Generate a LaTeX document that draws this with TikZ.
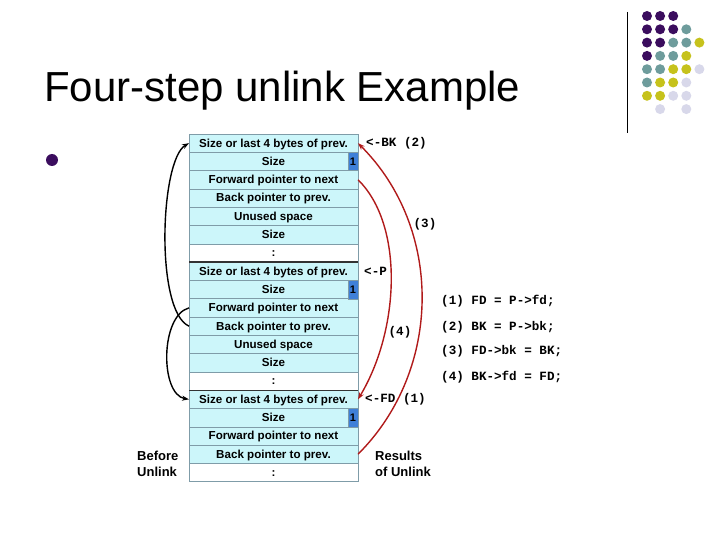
\documentclass[tikz,border=0pt]{standalone}
\usepackage{fontspec}
\setmainfont{Liberation Sans}
\setmonofont{Liberation Mono}
\usepackage{tikz}
\usetikzlibrary{arrows.meta,positioning}

\definecolor{cellfill}{HTML}{CCF6FA}
\definecolor{rowline}{HTML}{7F9CA8}
\definecolor{flagblue}{HTML}{3F80D8}
\definecolor{arrowred}{HTML}{B01A1A}
\definecolor{dotP}{HTML}{3B0D5E}
\definecolor{dotT}{HTML}{6E9C9C}
\definecolor{dotY}{HTML}{C6C21C}
\definecolor{dotL}{HTML}{D8D8EA}

\begin{document}
\begin{tikzpicture}[x=1pt, y=-1pt, node distance=0pt,
    cell/.style={draw=rowline, line width=0.6pt, fill=cellfill, minimum width=169pt, minimum height=18.3pt,
      inner sep=0pt, outer sep=0pt, text height=8.4pt, text depth=0.6pt,
      font=\bfseries\fontsize{11.6}{12}\selectfont},
    gap/.style={cell, fill=white},
    flag/.style={draw=rowline, line width=0.4pt, fill=flagblue, minimum width=10pt, minimum height=18.3pt,
      inner sep=0pt, outer sep=0pt, anchor=east, text height=8pt, text depth=0.6pt,
      font=\bfseries\fontsize{11}{12}\selectfont},
    ptr/.style={-{Stealth[length=7pt,width=5pt]}, line width=1.4pt},
    redptr/.style={ptr, draw=arrowred, -{Stealth[length=7pt,width=5pt,fill=arrowred]}},
    lbl/.style={inner sep=0pt, font=\ttfamily\bfseries\fontsize{12.6}{14}\selectfont},
    side/.style={inner sep=0pt, align=left, font=\bfseries\fontsize{13}{16}\selectfont}]

\useasboundingbox (0,0) rectangle (720,540);

% title, bullet and corner decoration
\node[anchor=base west, inner sep=0pt, font=\fontsize{42}{46}\selectfont] (title) at (44,102) {Four-step unlink Example};
\fill[dotP] (52,160) circle (6pt);
\draw[line width=1pt] (627,12) -- (627,133);
\foreach \col/\row/\c in {0/0/dotP, 1/0/dotP, 2/0/dotP,
    0/1/dotP, 1/1/dotP, 2/1/dotP, 3/1/dotT,
    0/2/dotP, 1/2/dotP, 2/2/dotT, 3/2/dotT, 4/2/dotY,
    0/3/dotP, 1/3/dotT, 2/3/dotT, 3/3/dotY,
    0/4/dotT, 1/4/dotT, 2/4/dotY, 3/4/dotY, 4/4/dotL,
    0/5/dotT, 1/5/dotY, 2/5/dotY, 3/5/dotL,
    0/6/dotY, 1/6/dotY, 2/6/dotL, 3/6/dotL,
    1/7/dotL, 3/7/dotL}
  \fill[\c] ({647+13.1*\col},{16+13.3*\row}) circle (5pt);

% chunk 1
\node[cell] (c1top) at (273.5,143.15) {Size or last 4 bytes of prev.};
\node[cell, below=of c1top] (c1size) {Size};
\node[cell, below=of c1size] (c1fd) {Forward pointer to next};
\node[cell, below=of c1fd] (c1bk) {Back pointer to prev.};
\node[cell, below=of c1bk] (c1free) {Unused space};
\node[cell, below=of c1free] (c1foot) {Size};
\node[gap, below=of c1foot] (c1gap) {:};

% chunk 2 (P)
\node[cell, below=of c1gap] (c2top) {Size or last 4 bytes of prev.};
\node[cell, below=of c2top] (c2size) {Size};
\node[cell, below=of c2size] (c2fd) {Forward pointer to next};
\node[cell, below=of c2fd] (c2bk) {Back pointer to prev.};
\node[cell, below=of c2bk] (c2free) {Unused space};
\node[cell, below=of c2free] (c2foot) {Size};
\node[gap, below=of c2foot] (c2gap) {:};

% chunk 3
\node[cell, below=of c2gap] (c3top) {Size or last 4 bytes of prev.};
\node[cell, below=of c3top] (c3size) {Size};
\node[cell, below=of c3size] (c3fd) {Forward pointer to next};
\node[cell, below=of c3fd] (c3bk) {Back pointer to prev.};
\node[gap, below=of c3bk] (c3gap) {:};

\node[flag] (c1flag) at (c1size.east) {1};
\node[flag] (c2flag) at (c2size.east) {1};
\node[flag] (c3flag) at (c3size.east) {1};

\draw[line width=1.3pt, black!80] (c2top.north west) -- (c2top.north east);
\draw[line width=1.3pt, black!80] (c3top.north west) -- (c3top.north east);

% before unlink
\draw[ptr] (c2bk.west) .. controls +(-34,-15) and +(-29,17) .. (c1top.west);
\draw[ptr] (c2fd.west) .. controls +(-29,8) and +(-29,-5) .. (c3top.west);

% after unlink
\draw[redptr] (c3bk.east) .. controls +(85,-85) and +(85,85) .. (c1top.east);
\draw[redptr] (c1fd.east) .. controls +(46,45) and +(42,-70) .. (c3top.east);

\node[lbl, anchor=west, right=8pt of c1top] (bklbl) {<-BK (2)};
\node[lbl, anchor=west, right=6pt of c2top] (plbl) {<-P};
\node[lbl, anchor=west, right=7pt of c3top] (fdlbl) {<-FD (1)};
\node[lbl] (step3) at (425,224) {(3)};
\node[lbl] (step4) at (400,332) {(4)};

\node[lbl, anchor=west] (code1) at (441,301) {(1) FD = P->fd;};
\node[lbl, anchor=west] (code2) at (441,327) {(2) BK = P->bk;};
\node[lbl, anchor=west] (code3) at (441,351) {(3) FD->bk = BK;};
\node[lbl, anchor=west] (code4) at (441,377) {(4) BK->fd = FD;};

\node[side, anchor=west] (before) at (137,464) {Before\\Unlink};
\node[side, anchor=west] (results) at (375,464) {Results\\of Unlink};
\end{tikzpicture}
\end{document}
